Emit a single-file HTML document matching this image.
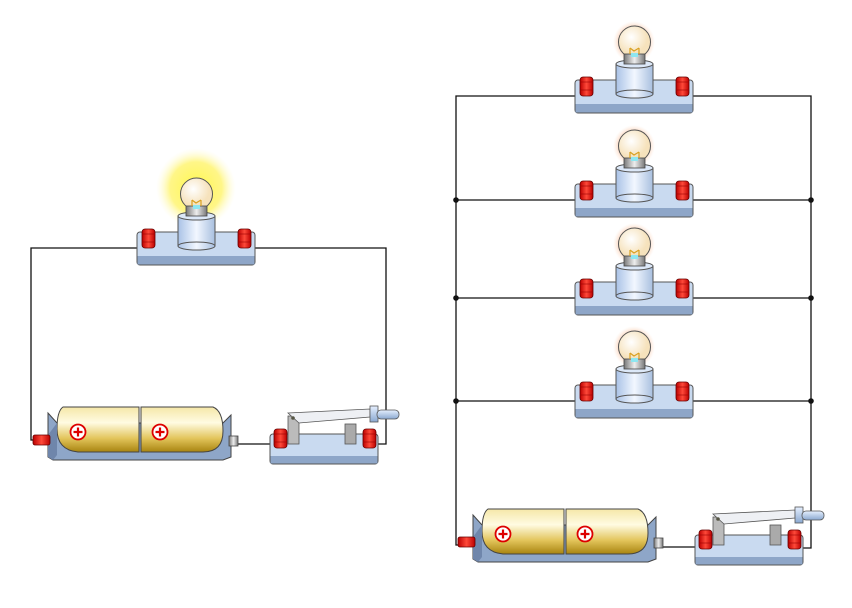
<!DOCTYPE html>
<html><head><meta charset="utf-8"><style>html,body{margin:0;padding:0;background:#fff}svg{display:block}</style></head>
<body>
<svg width="852" height="608" viewBox="0 0 852 608" xmlns="http://www.w3.org/2000/svg">
<defs>
<radialGradient id="glowY"><stop offset="0" stop-color="#fff84a" stop-opacity="1"/><stop offset="0.65" stop-color="#fff46a" stop-opacity="0.8"/><stop offset="1" stop-color="#fffbd0" stop-opacity="0"/></radialGradient>
<radialGradient id="glowO"><stop offset="0.6" stop-color="#f7b48a" stop-opacity="0.9"/><stop offset="1" stop-color="#fde0cc" stop-opacity="0"/></radialGradient>
<radialGradient id="globe" cx="0.4" cy="0.35"><stop offset="0" stop-color="#ffffff"/><stop offset="1" stop-color="#f6e2bc"/></radialGradient>
<linearGradient id="sock" x1="0" x2="1"><stop offset="0" stop-color="#a9c2e6"/><stop offset="0.5" stop-color="#f2f7ff"/><stop offset="1" stop-color="#a8bfdf"/></linearGradient>
<linearGradient id="metal" x1="0" x2="1"><stop offset="0" stop-color="#777"/><stop offset="0.5" stop-color="#eee"/><stop offset="1" stop-color="#777"/></linearGradient>
<linearGradient id="red" x1="0" x2="1"><stop offset="0" stop-color="#b00"/><stop offset="0.5" stop-color="#ff4a3a"/><stop offset="1" stop-color="#b00"/></linearGradient>
<linearGradient id="gold" x1="0" y1="0" x2="0" y2="1"><stop offset="0" stop-color="#f5e7a8"/><stop offset="0.35" stop-color="#fffbe2"/><stop offset="0.7" stop-color="#e2c45a"/><stop offset="1" stop-color="#a88410"/></linearGradient>
<linearGradient id="handle" x1="0" y1="0" x2="0" y2="1"><stop offset="0" stop-color="#e6f0ff"/><stop offset="1" stop-color="#8aa8d0"/></linearGradient>
<g id="term"><rect x="0" y="0" width="13" height="19" rx="3" fill="url(#red)" stroke="#600" stroke-width="0.8"/><line x1="1" y1="5" x2="12" y2="5" stroke="#900" stroke-width="0.6"/><line x1="1" y1="13" x2="12" y2="13" stroke="#900" stroke-width="0.6"/></g>
<g id="lamp">
 <rect x="0" y="0" width="118" height="33" rx="3" fill="#c9daf0" stroke="#555" stroke-width="1"/>
 <rect x="0.5" y="24" width="117" height="8.5" fill="#8ea6c8"/>
 <rect x="41" y="-16" width="37" height="30" fill="url(#sock)" stroke="#555" stroke-width="1"/>
 <ellipse cx="59.5" cy="14" rx="18.5" ry="4" fill="url(#sock)" stroke="#555" stroke-width="1"/>
 <ellipse cx="59.5" cy="-16" rx="18.5" ry="4" fill="#dce8f8" stroke="#555" stroke-width="1"/>
 <circle cx="59.5" cy="-38" r="16" fill="url(#globe)" stroke="#555" stroke-width="1"/>
 <rect x="49" y="-26" width="21" height="10" fill="url(#metal)" stroke="#444" stroke-width="0.8"/>
 <path d="M55 -26 L55 -32 M64 -26 L64 -32 M55 -32 L59 -29 L64 -32" stroke="#d9a020" stroke-width="1.2" fill="none"/>
 <rect x="56" y="-27" width="7" height="4" fill="#8ee6f0"/>
 <use href="#term" x="5" y="-3"/>
 <use href="#term" x="101" y="-3"/>
</g>
<g id="batt">
 <polygon points="15,8 24,18 190,18 198,10 198,52 190,55 20,55 15,52" fill="#8ea6c8" stroke="#444" stroke-width="1"/>
 <path d="M30,2 L106,2 L106,47 L45,47 Q24,45 24,24 Q24,6 30,2 Z" fill="url(#gold)" stroke="#444" stroke-width="1"/>
 <path d="M108,2 L180,2 Q190,6 190,26 Q190,47 170,47 L108,47 Z" fill="url(#gold)" stroke="#444" stroke-width="1"/>
 <polygon points="15,30 24,18 24,50 20,55 15,52" fill="#6f86ab"/>
 <circle cx="45" cy="27" r="7.5" fill="#fff" stroke="#d00" stroke-width="1.8"/>
 <path d="M40.5 27 H49.5 M45 22.5 V31.5" stroke="#d00" stroke-width="2.2"/>
 <circle cx="127" cy="27" r="7.5" fill="#fff" stroke="#d00" stroke-width="1.8"/>
 <path d="M122.5 27 H131.5 M127 22.5 V31.5" stroke="#d00" stroke-width="2.2"/>
 <rect x="0" y="30" width="17" height="10" rx="2" fill="url(#red)" stroke="#600" stroke-width="0.8"/>
 <rect x="196" y="31" width="9" height="10" fill="url(#metal)" stroke="#444" stroke-width="0.8"/>
</g>
<g id="sw">
 <rect x="0" y="4" width="108" height="30" rx="3" fill="#c9daf0" stroke="#555" stroke-width="1"/>
 <rect x="0.5" y="26" width="107" height="7.5" fill="#8ea6c8"/>
 <rect x="18" y="-14" width="11" height="28" fill="#bbb" stroke="#555" stroke-width="0.8"/>
 <rect x="75" y="-6" width="11" height="20" fill="#aaa" stroke="#555" stroke-width="0.8"/>
 <polygon points="18,-17 100,-21 100,-13 29,-7" fill="#eef0f4" stroke="#555" stroke-width="0.8"/>
 <circle cx="23" cy="-12" r="1.8" fill="#554"/>
 <rect x="100" y="-24" width="8" height="16" fill="url(#handle)" stroke="#555" stroke-width="0.8"/>
 <rect x="107" y="-20" width="22" height="9" rx="4" fill="url(#handle)" stroke="#555" stroke-width="0.8"/>
 <use href="#term" x="4" y="-1"/>
 <use href="#term" x="93" y="-1"/>
</g>
</defs>

<g stroke="#111" stroke-width="1.3" fill="none">
 <polyline points="137,248 31,248 31,440 36,440"/>
 <polyline points="255,248 386,248 386,444 376,444"/>
 <line x1="238" y1="444" x2="275" y2="444"/>
</g>
<circle cx="196" cy="188" r="40" fill="url(#glowY)"/>
<use href="#lamp" x="137" y="232"/>
<use href="#batt" x="33" y="405"/>
<use href="#sw" x="270" y="430"/>

<g stroke="#111" stroke-width="1.3" fill="none">
 <polyline points="575,96 456,96 456,545 462,545"/>
 <polyline points="693,96 811,96 811,548 800,548"/>
 <line x1="456" y1="200" x2="575" y2="200"/><line x1="693" y1="200" x2="811" y2="200"/>
 <line x1="456" y1="298" x2="575" y2="298"/><line x1="693" y1="298" x2="811" y2="298"/>
 <line x1="456" y1="401" x2="575" y2="401"/><line x1="693" y1="401" x2="811" y2="401"/>
 <line x1="663" y1="547" x2="700" y2="547"/>
</g>
<g fill="#111">
 <circle cx="456" cy="200" r="2.8"/><circle cx="811" cy="200" r="2.8"/>
 <circle cx="456" cy="298" r="2.8"/><circle cx="811" cy="298" r="2.8"/>
 <circle cx="456" cy="401" r="2.8"/><circle cx="811" cy="401" r="2.8"/>
</g>
<circle cx="634" cy="42" r="21" fill="url(#glowO)"/>
<circle cx="634" cy="146" r="21" fill="url(#glowO)"/>
<circle cx="634" cy="244" r="21" fill="url(#glowO)"/>
<circle cx="634" cy="347" r="21" fill="url(#glowO)"/>
<use href="#lamp" x="575" y="80"/>
<use href="#lamp" x="575" y="184"/>
<use href="#lamp" x="575" y="282"/>
<use href="#lamp" x="575" y="385"/>
<use href="#batt" x="458" y="507"/>
<use href="#sw" x="695" y="531"/>
</svg>
</body></html>
